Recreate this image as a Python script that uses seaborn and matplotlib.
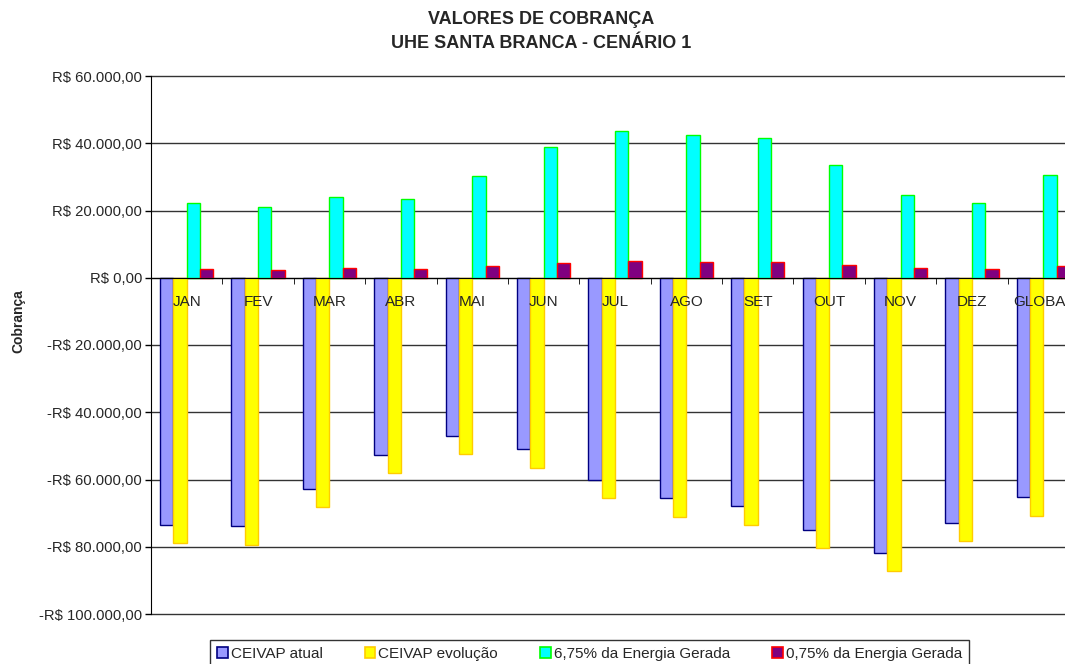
import matplotlib
matplotlib.use("Agg")
import matplotlib.pyplot as plt
from matplotlib.ticker import FuncFormatter, MultipleLocator
import pandas as pd
import seaborn as sns

# Valores de cobrança (R$)
meses = ["JAN", "FEV", "MAR", "ABR", "MAI", "JUN", "JUL",
         "AGO", "SET", "OUT", "NOV", "DEZ", "GLOBAL"]
ceivap_atual = [-73400, -73800, -62700, -52600, -47000, -50900, -60000,
                -65600, -67800, -75000, -81800, -72800, -65300]
ceivap_evolucao = [-78900, -79500, -68300, -58200, -52400, -56500, -65500,
                   -71100, -73400, -80500, -87200, -78400, -70900]
energia_675 = [22200, 21100, 23900, 23500, 30300, 39000, 43600,
               42500, 41700, 33400, 24700, 22100, 30600]
energia_075 = [2500, 2400, 2800, 2700, 3600, 4400, 5000,
               4700, 4800, 3800, 2800, 2600, 3600]

series = ["CEIVAP atual", "CEIVAP evolução",
          "6,75% da Energia Gerada", "0,75% da Energia Gerada"]
cores = ["#9999FF", "#FFFF00", "#00FFFF", "#800080"]
bordas = ["#000080", "#FFCC00", "#00FF00", "#FF0000"]

df = pd.DataFrame({
    "mes": meses * 4,
    "serie": [s for s in series for _ in meses],
    "valor": ceivap_atual + ceivap_evolucao + energia_675 + energia_075,
})

sns.set_style("white")
plt.rcParams["font.family"] = ["Liberation Sans", "DejaVu Sans"]

fig = plt.figure(figsize=(10.65, 6.64), dpi=100)
# a área do gráfico passa da borda direita, como no original
ax = fig.add_axes([151 / 1065, 1 - 614 / 664, 928 / 1065, 538 / 664])

sns.barplot(data=df, x="mes", y="valor", hue="serie", hue_order=series,
            palette=cores, width=0.745, gap=0, saturation=1, ax=ax,
            errorbar=None)

for cont, borda in zip(ax.containers, bordas):
    for barra in cont:
        barra.set_edgecolor(borda)
        barra.set_linewidth(1.0)

handles, labels = ax.get_legend_handles_labels()
ax.legend_.remove()
for h, borda in zip(handles, bordas):
    h.set_edgecolor(borda)
    h.set_linewidth(1.2)


def brl(v, pos):
    s = f"{abs(v):,.2f}".replace(",", "X").replace(".", ",").replace("X", ".")
    return ("-" if v < 0 else "") + "R$ " + s


ax.set_ylim(-100000, 60000)
ax.set_xlim(-0.5, len(meses) - 0.5)
ax.yaxis.set_major_locator(MultipleLocator(20000))
ax.yaxis.set_major_formatter(FuncFormatter(brl))
ax.grid(axis="y", color="#333333", linewidth=1)
ax.set_axisbelow(True)
for linha in ax.get_ygridlines():
    linha.set_clip_on(False)

ax.spines["top"].set_visible(False)
ax.spines["right"].set_visible(False)
ax.spines["left"].set_color("black")
ax.spines["bottom"].set_color("black")
ax.spines["bottom"].set_position(("data", 0))
ax.spines["bottom"].set_zorder(3)

# rótulos dos meses por cima das barras, logo abaixo do zero
ax.set_xticks(range(len(meses)))
ax.set_xticklabels([])
ax.set_xticks([i + 0.5 for i in range(len(meses))], minor=True)
ax.tick_params(axis="x", which="major", length=0)
ax.tick_params(axis="x", which="minor", length=4, color="black",
               direction="out", bottom=True)
for i, m in enumerate(meses):
    ax.annotate(m, xy=(i, 0), xytext=(0, -20), textcoords="offset points",
                ha="center", va="baseline", fontsize=11, zorder=6,
                annotation_clip=False)

ax.tick_params(axis="y", length=4, width=1, color="black", direction="out",
               left=True, labelsize=10.7, pad=2.5)

ax.set_xlabel("")
ax.set_ylabel("Cobrança", fontsize=10, fontweight="bold")
ax.yaxis.set_label_coords(-0.135, 0.545)

fig.suptitle("VALORES DE COBRANÇA\nUHE SANTA BRANCA - CENÁRIO 1",
             x=541 / 1065, y=0.983, fontsize=13, fontweight="bold",
             linespacing=1.55)

fig.legend(handles, labels, loc="upper center", ncol=4,
           bbox_to_anchor=(0.5535, 1 - 640 / 664), fontsize=11,
           handlelength=0.7, handleheight=0.7, handletextpad=0.2,
           columnspacing=2.75, borderpad=0.45, borderaxespad=0,
           frameon=True, fancybox=False, edgecolor="black")

fig.savefig("out.png", dpi=100)
